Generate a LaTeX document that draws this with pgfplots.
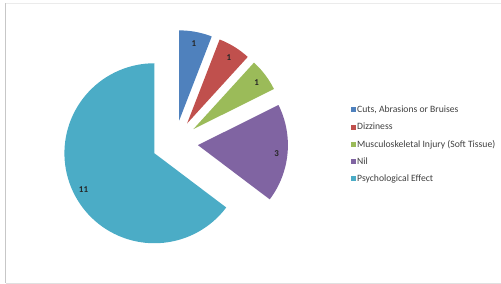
\documentclass[border=0pt]{standalone}
\usepackage{pgfplots}
\pgfplotsset{compat=1.18}
\usepackage{pgfplotstable}
\usepackage{fontspec}
\setmainfont{Carlito}
\definecolor{cBlue}{HTML}{4F81BD}
\definecolor{cRed}{HTML}{C0504D}
\definecolor{cGreen}{HTML}{9BBB59}
\definecolor{cPurple}{HTML}{8064A2}
\definecolor{cTeal}{HTML}{4BACC6}
\definecolor{legtext}{HTML}{404040}

\pgfplotstableread{
idx value
1 1
2 1
3 1
4 3
5 11
}\pietable

% centre (px units, y up), radius, explosion
\def\cx{175}\def\cy{141}\def\R{90}\def\ex{23}

\newcommand\pieslice[4]{% #1 start angle, #2 end angle, #3 colour, #4 label
  \pgfmathsetmacro\mid{(#1+#2)/2}%
  \pgfmathsetmacro\ax{\cx+\ex*cos(\mid)}%
  \pgfmathsetmacro\ay{\cy+\ex*sin(\mid)}%
  \pgfmathsetmacro\lx{\ax+0.88*\R*cos(\mid)}%
  \pgfmathsetmacro\ly{\ay+0.88*\R*sin(\mid)-1.5}%
  \edef\doit{\noexpand\addplot[fill=#3, draw=none, domain=#2:#1, samples=80]
    ({\ax+\R*cos(x)},{\ay+\R*sin(x)}) -- (axis cs:\ax,\ay) -- cycle;
    \noexpand\node[font=\noexpand\fontsize{9}{10}\noexpand\selectfont\noexpand\bfseries, text=black!85] at (axis cs:\lx,\ly) {#4};}%
  \doit
}

\begin{document}
\begin{tikzpicture}
\pgfplotstablegetelem{0}{value}\of\pietable\let\vA\pgfplotsretval
\pgfplotstablegetelem{1}{value}\of\pietable\let\vB\pgfplotsretval
\pgfplotstablegetelem{2}{value}\of\pietable\let\vC\pgfplotsretval
\pgfplotstablegetelem{3}{value}\of\pietable\let\vD\pgfplotsretval
\pgfplotstablegetelem{4}{value}\of\pietable\let\vE\pgfplotsretval
\pgfmathsetmacro\tot{\vA+\vB+\vC+\vD+\vE}
\pgfmathsetmacro\aA{90}
\pgfmathsetmacro\aB{\aA-360*\vA/\tot}
\pgfmathsetmacro\aC{\aB-360*\vB/\tot}
\pgfmathsetmacro\aD{\aC-360*\vC/\tot}
\pgfmathsetmacro\aE{\aD-360*\vD/\tot}
\pgfmathsetmacro\aF{\aE-360*\vE/\tot}
\begin{axis}[
  width=501bp, height=284bp, scale only axis,
  xmin=0, xmax=501, ymin=0, ymax=284,
  hide axis, clip=false,
  legend style={draw=none, fill=none, at={(axis cs:351,139.5)}, anchor=west,
    font=\fontsize{9.7}{10.5}\selectfont, text=legtext,
    row sep=7.0pt, inner sep=0pt,
    nodes={inner sep=1pt}},
  legend cell align=left,
  legend image code/.code={\fill[#1, draw=none] (0.07cm,-0.085cm) rectangle (0.245cm,0.09cm);},
]
\draw[black!22, line width=0.8pt] (axis cs:5.5,1) -- (axis cs:5.5,281);
\draw[black!8] (axis cs:5.5,281) -- (axis cs:501,281);
\draw[black!12] (axis cs:5.5,1) -- (axis cs:501,1);
\pieslice{\aA}{\aB}{cBlue}{\vA}
\pieslice{\aB}{\aC}{cRed}{\vB}
\pieslice{\aC}{\aD}{cGreen}{\vC}
\pieslice{\aD}{\aE}{cPurple}{\vD}
\pieslice{\aE}{\aF}{cTeal}{\vE}
\legend{{Cuts, Abrasions or Bruises}, Dizziness, Musculoskeletal Injury (Soft Tissue), Nil, Psychological Effect}
\end{axis}
\pgfresetboundingbox
\path (current axis.south west) rectangle (current axis.north east);
\end{tikzpicture}
\end{document}
